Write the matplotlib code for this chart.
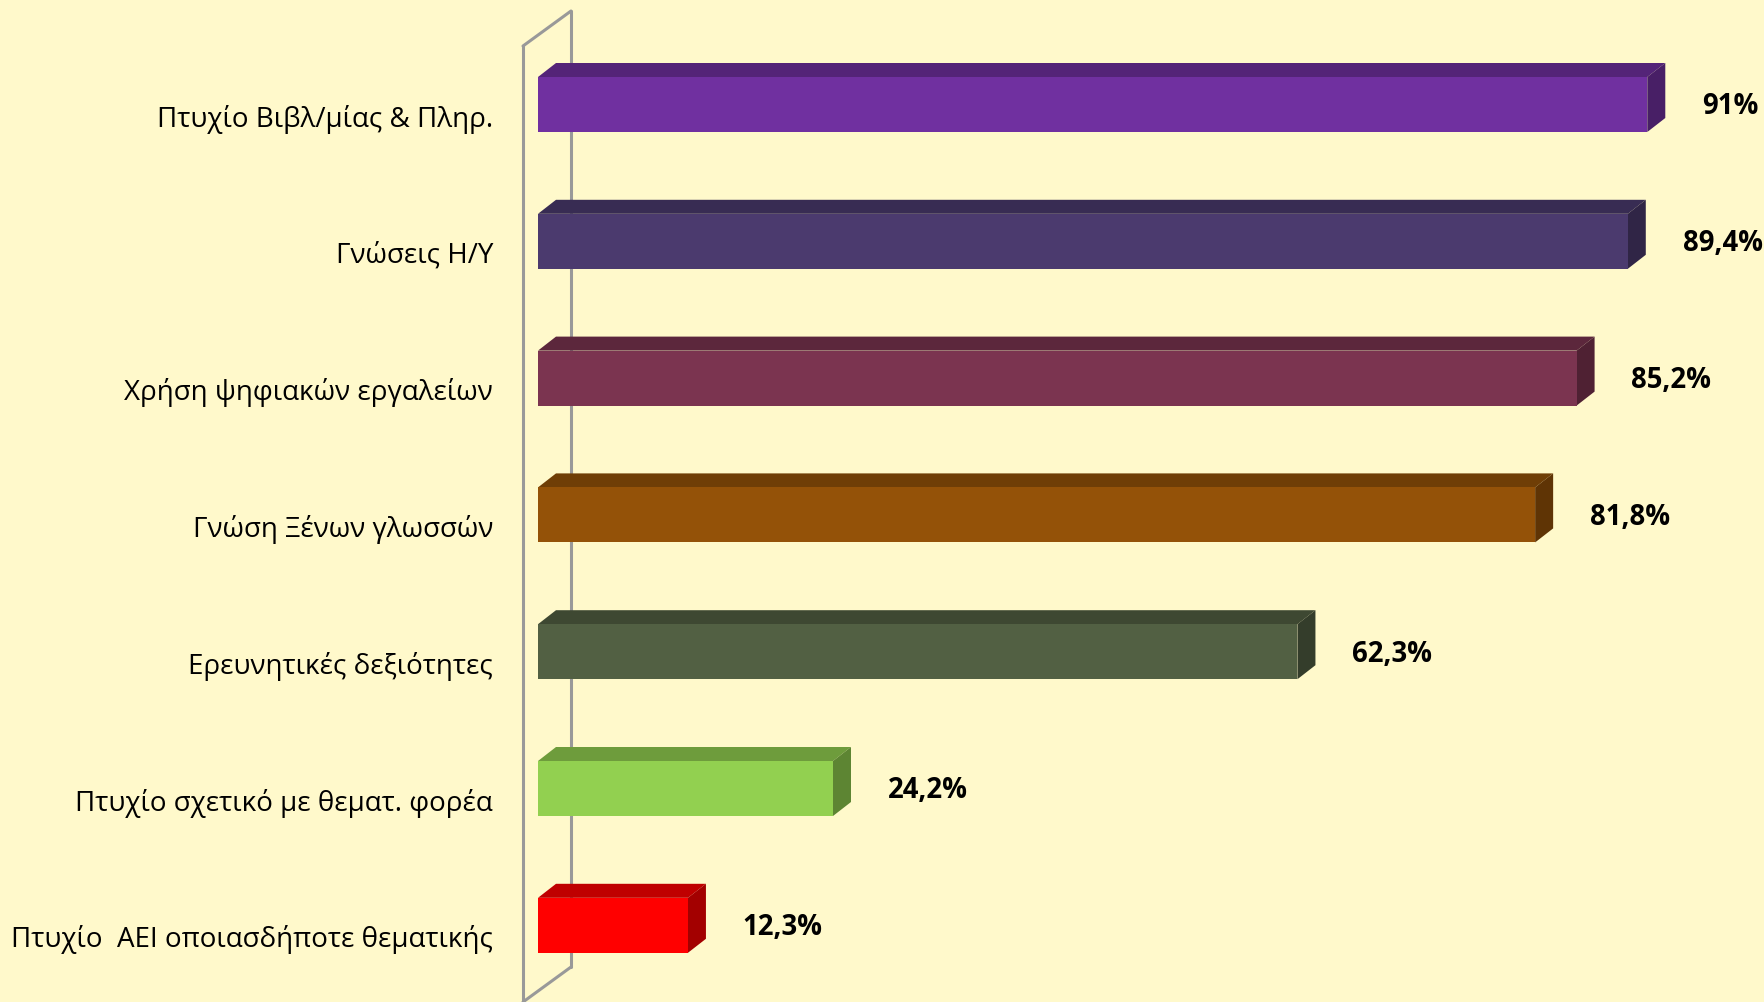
import matplotlib
matplotlib.use("Agg")
import matplotlib.pyplot as plt
from matplotlib.patches import Polygon
from matplotlib.colors import to_rgb
from matplotlib.lines import Line2D

categories = [
    "Πτυχίο Βιβλ/μίας & Πληρ.",
    "Γνώσεις Η/Υ",
    "Χρήση ψηφιακών εργαλείων",
    "Γνώση Ξένων γλωσσών",
    "Ερευνητικές δεξιότητες",
    "Πτυχίο σχετικό με θεματ. φορέα",
    "Πτυχίο  ΑΕΙ οποιασδήποτε θεματικής",
]
values = [91, 89.4, 85.2, 81.8, 62.3, 24.2, 12.3]
colors = ["#7030A0", "#4B3A6E", "#7B3450", "#945208", "#526043", "#92D050", "#FF0000"]

BG = "#FFF9CB"
W, H = 1765, 1003
fig = plt.figure(figsize=(W / 100, H / 100), dpi=100, facecolor=BG)
ax = fig.add_axes([0, 0, 1, 1])
ax.set_facecolor(BG)
ax.set_axis_off()

px_per_x = 12.19       # pixels per percent
x0_px = 538            # pixel of 0 %
row_px = 136.8         # pixels per category
y0_px = 105.5          # pixel of first bar centre
ax.set_xlim(-x0_px / px_per_x, (W - x0_px) / px_per_x)
ax.set_ylim((H - y0_px) / row_px, -y0_px / row_px)

bar_h = 55 / row_px
ddx = 18 / px_per_x
ddy = 14 / row_px


def shade(c, f):
    r, g, b = to_rgb(c)
    return (r * f, g * f, b * f)


# wall (3D back wall outline)
wx_front = -15 / px_per_x
wx_back = wx_front + 48 / px_per_x
wy_top_front = (47 - y0_px) / row_px
wy_top_back = (12 - y0_px) / row_px
wy_bot_back = (968 - y0_px) / row_px
wy_bot_front = wy_bot_back + 35 / row_px
wall_kw = dict(color="#999999", lw=2.2, solid_capstyle="round", zorder=1)
ax.add_line(Line2D([wx_front, wx_front], [wy_bot_front + 0.1, wy_top_front], **wall_kw))
ax.add_line(Line2D([wx_front, wx_back], [wy_top_front, wy_top_back], **wall_kw))
ax.add_line(Line2D([wx_back, wx_back], [wy_top_back, wy_bot_back], **wall_kw))
ax.add_line(Line2D([wx_back, wx_front], [wy_bot_back, wy_bot_front], **wall_kw))

ypos = list(range(len(categories)))
ax.barh(ypos, values, height=bar_h, color=colors, zorder=3, linewidth=0)

fam = ["Open Sans", "DejaVu Sans"]
for y, v, c, cat in zip(ypos, values, colors, categories):
    top = y - bar_h / 2
    bot = y + bar_h / 2
    ax.add_patch(Polygon([(0, top), (v, top), (v + ddx, top - ddy), (ddx, top - ddy)],
                         closed=True, facecolor=shade(c, 0.75), edgecolor="none", zorder=2))
    ax.add_patch(Polygon([(v, top), (v + ddx, top - ddy), (v + ddx, bot - ddy), (v, bot)],
                         closed=True, facecolor=shade(c, 0.64), edgecolor="none", zorder=2))
    lab = (f"{v:g}".replace(".", ",")) + "%"
    ax.text(v + 4.5, y + 0.01, lab, ha="left", va="center", fontsize=19.8,
            fontweight="bold", family=fam, color="black", zorder=4)
    ax.text(-45 / px_per_x, y + 0.1, cat, ha="right", va="center",
            fontsize=20, family=fam, color="black", zorder=4)

fig.savefig("out.png", dpi=100, facecolor=BG)
